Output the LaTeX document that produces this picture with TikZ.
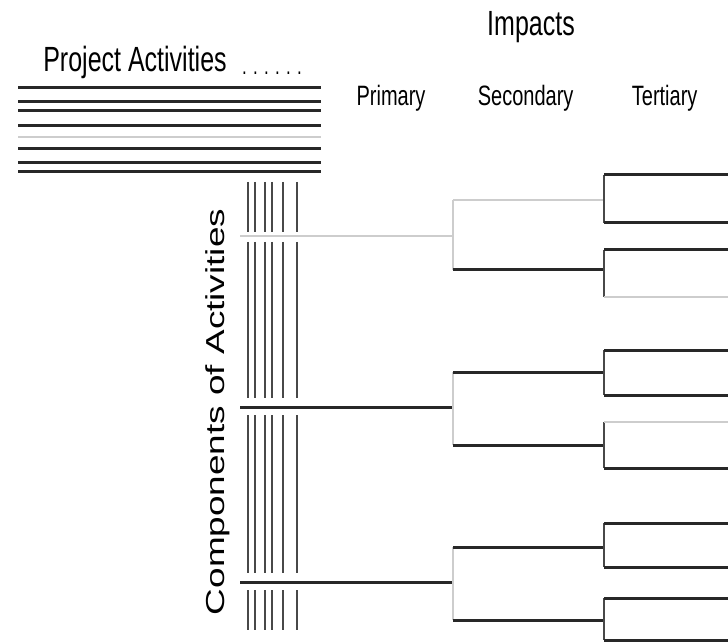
\documentclass[tikz,border=0pt]{standalone}
\usepackage{fontspec}
\setmainfont{Liberation Sans}
\usetikzlibrary{positioning}
\definecolor{inkdark}{RGB}{40,40,40}
\definecolor{inklight}{RGB}{205,205,205}

\begin{document}
\begin{tikzpicture}[x=1pt, y=-1pt,
  every node/.style={inner sep=0pt},
  head/.style={font=\fontsize{25}{30}\selectfont, yscale=1.4},
  sub/.style={font=\fontsize{20}{24}\selectfont, yscale=1.4},
  bar/.style={draw=inkdark, line width=3pt},
  faint/.style={draw=inklight, line width=2.2pt},
  stem/.style={draw=inkdark!85, line width=2.3pt},
  fork/.style={draw=inklight, line width=1.4pt}
]
  \useasboundingbox (0,0) rectangle (728,644);

  % headings
  \node[head] (impacts) at (531,27) {Impacts};
  \node[head] (proj) at (135,62) {Project Activities};
  \node[font=\fontsize{17}{20}\selectfont, yscale=1.4] (dots) at (272,73) {. . . . . .};
  \node[sub] (prim) at (391,98) {Primary};
  \node[sub, right=52pt of prim] (sec) {Secondary};
  \node[sub, right=58pt of sec] (tert) {Tertiary};
  \node[font=\fontsize{26}{30}\selectfont, rotate=90, xscale=1.42] (comp) at (218,412) {Components of Activities};

  % activity rows
  \foreach \y/\s in {88/bar,102/bar,111/bar,126/bar,137/faint,149/bar,163/bar,172/bar}
    \draw[\s] (18,\y) -- (321,\y);

  % component columns
  \foreach \x in {248,255,265,272,283,297}
    \foreach \a/\b in {182/232,242/398,415/573,590/630}
      \draw[stem] (\x,\a) -- (\x,\b);

  % primary impacts
  \foreach \n/\py/\ps/\sa/\sb in {1/236/faint/200/270, 2/407/bar/372/445, 3/582/bar/547/620} {
    \coordinate (pri\n) at (240,\py);
    \coordinate (prj\n) at (453,\py);
    \coordinate (secA\n) at (453,\sa);
    \coordinate (secB\n) at (453,\sb);
    \draw[\ps] (pri\n) -- (prj\n);
    \draw[fork] (secA\n) -- (secB\n);
  }

  % secondary and tertiary impacts
  \foreach \m/\sy/\ss/\ta/\tb/\sa/\sb in {
      1/200/faint/175/223/bar/bar,
      2/270/bar/250/297/bar/faint,
      3/372/bar/350/395/bar/bar,
      4/445/bar/422/468/faint/bar,
      5/547/bar/523/567/bar/bar,
      6/620/bar/598/640/bar/bar} {
    \coordinate (sec\m) at (453,\sy);
    \coordinate (tri\m) at (604,\sy);
    \coordinate (terA\m) at (604,\ta);
    \coordinate (terB\m) at (604,\tb);
    \coordinate (endA\m) at (728,\ta);
    \coordinate (endB\m) at (728,\tb);
    \draw[\ss] (sec\m) -- (tri\m);
    \draw[stem] (terA\m) -- (terB\m);
    \draw[\sa] (terA\m) -- (endA\m);
    \draw[\sb] (terB\m) -- (endB\m);
  }
\end{tikzpicture}
\end{document}
